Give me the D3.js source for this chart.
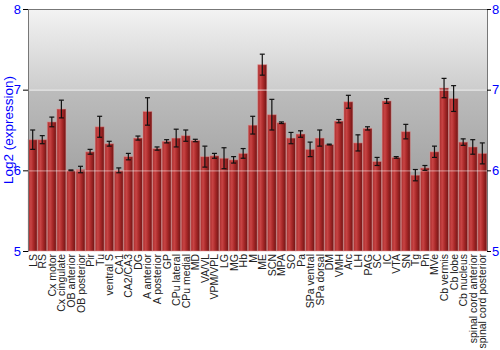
<!DOCTYPE html>
<html>
<head>
    <meta charset="utf-8">
    <script src="https://d3js.org/d3.v7.min.js"></script>
    <style>
        body { margin: 0; background: #fff; }
        svg { display: block; font-family: "Liberation Sans", Arial, sans-serif; }
    </style>
</head>
<body>
    <svg width="500" height="350"></svg>
    <script>
        // regions on the x axis
        var regions = ["LS", "RS", "Cx motor", "Cx cingulate", "OB anterior", "OB posterior", "Pir", "Tu",
            "ventral S", "CA1", "CA2/CA3", "DG", "A anterior", "A posterior", "GP", "CPu lateral",
            "CPu medial", "MD", "VA/VL", "VPM/VPL", "LG", "MG", "Hb", "M", "ME", "SCN", "MPA", "SO",
            "Pa", "SPa ventral", "SPa dorsal", "DM", "VMH", "Arc", "LH", "PAG", "SC", "IC", "VTA",
            "SN", "Tg", "Pn", "MVe", "Cb vermis", "Cb lobe", "Cb nucleus", "spinal cord anterior",
            "spinal cord posterior"];

        // log2 expression per region
        var expression = [6.38, 6.38, 6.60, 6.76, 6.00, 6.01, 6.23, 6.54,
            6.33, 6.00, 6.17, 6.40, 6.73, 6.27, 6.36, 6.40,
            6.43, 6.37, 6.17, 6.18, 6.15, 6.13, 6.21, 6.56, 7.31, 6.69, 6.59, 6.40,
            6.45, 6.26, 6.40, 6.32, 6.61, 6.85, 6.34, 6.52, 6.11, 6.86, 6.16,
            6.48, 5.94, 6.03, 6.23, 7.02, 6.89, 6.35, 6.29, 6.21];

        // half height of the error bars
        var errors = [0.12, 0.05, 0.06, 0.11, 0.005, 0.04, 0.03, 0.13,
            0.03, 0.03, 0.04, 0.025, 0.17, 0.02, 0.02, 0.11,
            0.07, 0.015, 0.13, 0.03, 0.13, 0.04, 0.06, 0.11, 0.13, 0.19, 0.01, 0.07,
            0.04, 0.09, 0.10, 0.005, 0.02, 0.08, 0.10, 0.02, 0.05, 0.03, 0.01,
            0.09, 0.07, 0.03, 0.07, 0.12, 0.16, 0.04, 0.09, 0.13];

        var yTicks = [5, 6, 7, 8];

        var svg = d3.select("svg");
        var pLeft = 28, pRight = 487, pTop = 9, pBottom = 251;

        var x = d3.scaleBand().domain(regions).range([pLeft, pRight]).paddingInner(0.06).paddingOuter(0.02);
        var y = d3.scaleLinear().domain([5, 8]).range([pBottom, pTop]);

        var defs = svg.append("defs");
        var bg = defs.append("linearGradient").attr("id", "bg")
            .attr("x1", 0).attr("y1", 0).attr("x2", 0).attr("y2", 1);
        bg.append("stop").attr("offset", "0%").attr("stop-color", "#f3f3f3");
        bg.append("stop").attr("offset", "33%").attr("stop-color", "#cdcdcd");
        bg.append("stop").attr("offset", "34%").attr("stop-color", "#bcbcbc");
        bg.append("stop").attr("offset", "100%").attr("stop-color", "#8e8e8e");

        var bar = defs.append("linearGradient").attr("id", "bar")
            .attr("x1", 0).attr("y1", 0).attr("x2", 1).attr("y2", 0);
        bar.append("stop").attr("offset", "0%").attr("stop-color", "#a82c2c");
        bar.append("stop").attr("offset", "30%").attr("stop-color", "#c84444");
        bar.append("stop").attr("offset", "60%").attr("stop-color", "#a82828");
        bar.append("stop").attr("offset", "100%").attr("stop-color", "#6e1414");

        // plot background
        svg.append("rect")
            .attr("x", pLeft).attr("y", pTop)
            .attr("width", pRight - pLeft).attr("height", pBottom - pTop)
            .attr("fill", "url(#bg)");

        // bars
        svg.append("g").selectAll("rect")
            .data(regions)
            .enter().append("rect")
            .attr("x", function(d) { return x(d); })
            .attr("width", x.bandwidth())
            .attr("y", function(d, i) { return y(expression[i]); })
            .attr("height", function(d, i) { return pBottom - y(expression[i]); })
            .attr("fill", "url(#bar)")
            .attr("stroke", "rgba(230,150,150,0.5)")
            .attr("stroke-width", 1);

        // grid lines on top, faint
        svg.append("g").selectAll("line")
            .data([6, 7])
            .enter().append("line")
            .attr("x1", pLeft).attr("x2", pRight)
            .attr("y1", function(d) { return y(d) + 0.5; })
            .attr("y2", function(d) { return y(d) + 0.5; })
            .attr("stroke", function(d) { return d == 7 ? "rgba(255,255,255,0.6)" : "rgba(255,255,255,0.4)"; })
            .attr("stroke-width", 1.2);

        // error bars
        var eb = svg.append("g").attr("stroke", "#111").attr("stroke-width", 1.2);
        regions.forEach(function(d, i) {
            var cx = x(d) + x.bandwidth() / 2;
            var y1 = y(expression[i] + errors[i]), y2 = y(expression[i] - errors[i]);
            eb.append("line").attr("x1", cx).attr("x2", cx).attr("y1", y1).attr("y2", y2);
            eb.append("line").attr("x1", cx - 2.5).attr("x2", cx + 2.5).attr("y1", y1).attr("y2", y1);
            eb.append("line").attr("x1", cx - 2.5).attr("x2", cx + 2.5).attr("y1", y2).attr("y2", y2);
        });

        // top border
        svg.append("line")
            .attr("x1", pLeft).attr("x2", pRight).attr("y1", pTop + 0.5).attr("y2", pTop + 0.5)
            .attr("stroke", "#777");

        // axes
        var yl = svg.append("g").attr("transform", "translate(" + pLeft + ",0)")
            .call(d3.axisLeft(y).tickValues(yTicks).tickSize(5).tickPadding(2).tickFormat(d3.format("d")));
        var yr = svg.append("g").attr("transform", "translate(" + pRight + ",0)")
            .call(d3.axisRight(y).tickValues(yTicks).tickSize(4).tickPadding(1).tickFormat(d3.format("d")));
        [yl, yr].forEach(function(g) {
            g.select(".domain").attr("stroke", "#777");
            g.selectAll(".tick line").attr("stroke", "#000");
            g.selectAll(".tick text").attr("fill", "#0000ff").style("font-size", "13px");
        });

        // x labels
        svg.append("g").selectAll("text")
            .data(regions)
            .enter().append("text")
            .attr("transform", function(d) {
                return "translate(" + (x(d) + x.bandwidth() / 2 + 4) + "," + (pBottom + 3) + ") rotate(-90)";
            })
            .attr("text-anchor", "end")
            .style("font-size", "10.5px")
            .attr("fill", "#222")
            .text(function(d) { return d; });

        // y title
        svg.append("text")
            .attr("transform", "translate(13," + ((pTop + pBottom) / 2) + ") rotate(-90)")
            .attr("text-anchor", "middle")
            .attr("fill", "#0000ff")
            .style("font-size", "13.5px")
            .text("Log2 (expression)");
    </script>
</body>
</html>
